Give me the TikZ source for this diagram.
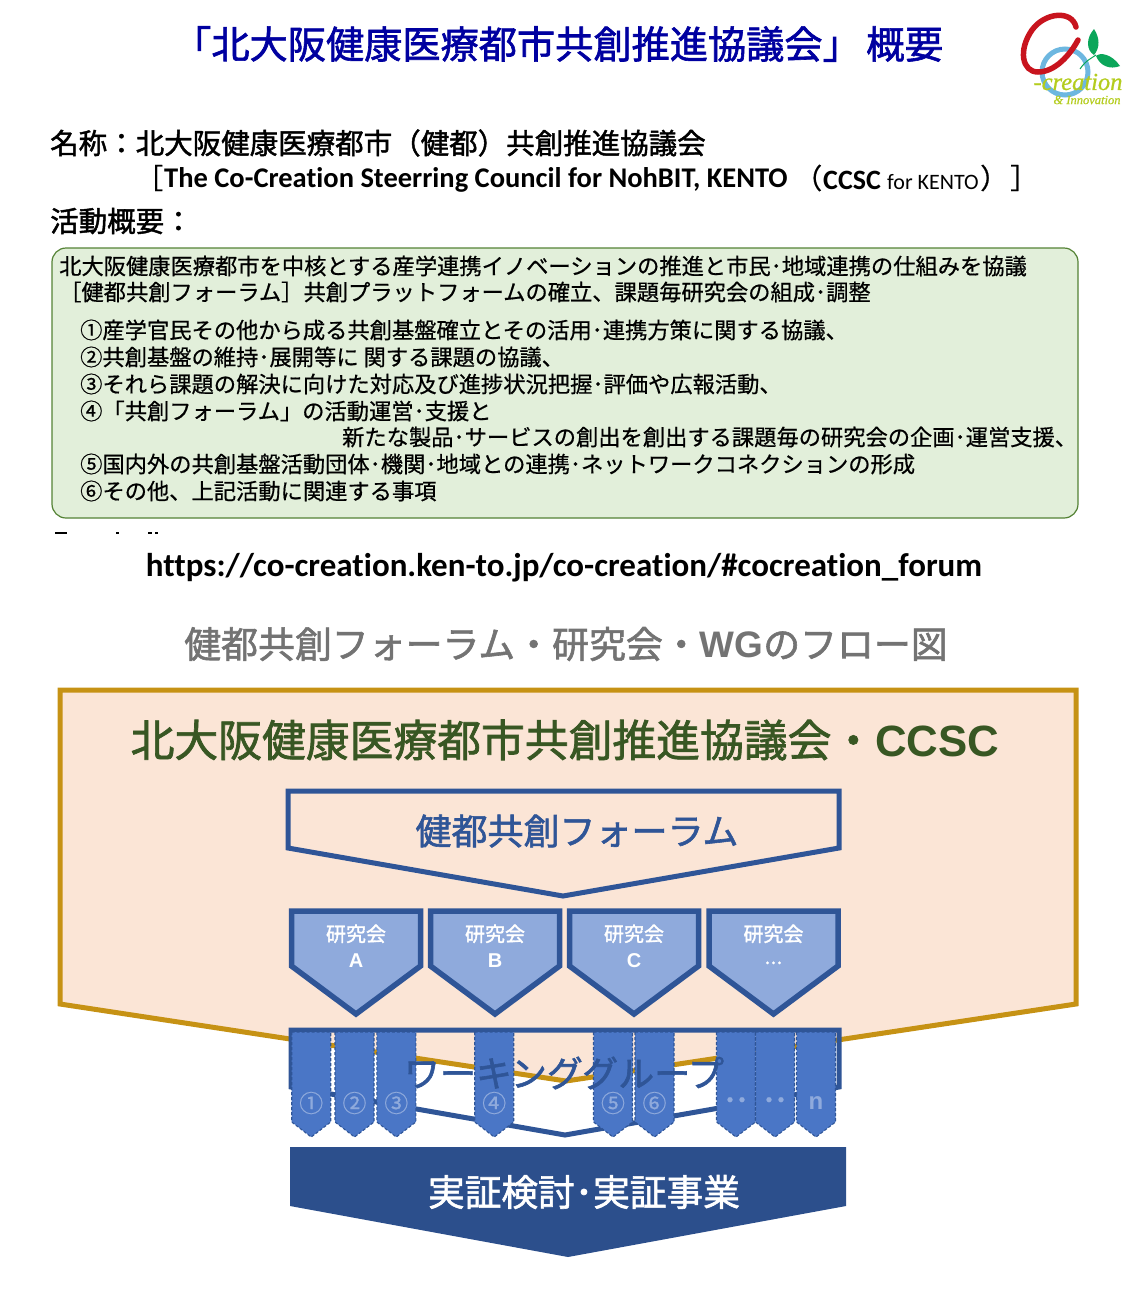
\documentclass[tikz,border=0pt]{standalone}
\usepackage{fontspec}
\setmainfont[RawFeature={embolden=0.6}]{Noto Sans CJK JP}
\newfontfamily\jpmed[RawFeature={embolden=1.6}]{Noto Sans CJK JP}
\newfontfamily\latinbold[Ligatures=NoCommon]{Carlito}
\newfontfamily\arialbold{Liberation Sans}
\newfontfamily\logofont[RawFeature={embolden=0.8}]{Liberation Serif}
\definecolor{titleblue}{HTML}{0000A0}
\definecolor{navy}{HTML}{2F5597}
\definecolor{deepnavy}{HTML}{2C4F8C}
\definecolor{peach}{HTML}{FBE5D6}
\definecolor{gold}{HTML}{C69214}
\definecolor{paleblue}{HTML}{8FAADC}
\definecolor{tabblue}{HTML}{4A76C6}
\definecolor{palegreen}{HTML}{E2EFDA}
\definecolor{boxgreen}{HTML}{548235}
\definecolor{headgreen}{HTML}{385723}
\definecolor{logored}{HTML}{C8141E}
\definecolor{logoblue}{HTML}{6DB7E0}
\definecolor{logoleaf}{HTML}{0BA65A}
\definecolor{logolime}{HTML}{B4CC1E}
\usetikzlibrary{positioning}
\tikzset{
  txt/.style={inner sep=0pt,anchor=west,font=\fontsize{22.27}{24}\selectfont},
  heading/.style={inner sep=0pt,anchor=west,font=\jpmed\fontsize{28.5}{30}\selectfont},
  bra/.style={inner sep=0pt,anchor=west,font=\fontsize{28}{30}\selectfont},
  kenkyu/.style={draw=navy,line width=5.5pt,fill=paleblue,miter limit=10},
  wgtab/.style={fill=tabblue},
  wgdash/.style={draw=navy,line width=1.1pt,dash pattern=on 3pt off 2pt},
}
\begin{document}
\begin{tikzpicture}[x=1pt,y=-1pt]
  \useasboundingbox (0,0) rectangle (1133,1307);
  % title
  \node[inner sep=0pt,anchor=west,text=titleblue,font=\jpmed\fontsize{38.2}{40}\selectfont] (title) at (173,44) {「北大阪健康医療都市共創推進協議会」};
  \node[inner sep=0pt,anchor=west,text=titleblue,font=\jpmed\fontsize{38.5}{40}\selectfont] (titleb) at (866,44) {概要};
  % logo
  \draw[logoblue,line width=5pt] (1065,72) circle (23);
  \draw[logored,line width=5.5pt,line cap=round] (1076,27) .. controls (1072,10) and (1045,12) .. (1032,30)
    .. controls (1018,50) and (1022,72) .. (1038,72) .. controls (1055,72) and (1070,55) .. (1078,40);
  \fill[logoleaf] (1094,29) .. controls (1086,38) and (1086,50) .. (1094,55) .. controls (1100,48) and (1100,38) .. (1094,29);
  \fill[logoleaf] (1120,66) .. controls (1112,54) and (1100,52) .. (1096,56) .. controls (1100,66) and (1110,70) .. (1120,66);
  \draw[logoleaf,line width=1pt] (1080,69) .. controls (1086,60) and (1092,58) .. (1096,55);
  \node[inner sep=0pt,text=logolime,font=\logofont\itshape\fontsize{24.5}{26}\selectfont] (logotext) at (1078,82) {-creation};
  \node[inner sep=0pt,text=logolime,font=\logofont\itshape\fontsize{12.5}{13}\selectfont] (logosub) at (1087,100) {\&\ Innovation};
  % name of council
  \node[heading] (name) at (50,143) {名称：北大阪健康医療都市（健都）共創推進協議会};
  \node[bra] (namebra) at (135,178) {［};
  \node[inner sep=0pt,anchor=west,font=\latinbold\bfseries\fontsize{28.5}{30}\selectfont] (nameen) at (164,180) {The Co-Creation Steerring Council for NohBIT, KENTO};
  \node[bra] (nameopen) at (794,178) {（};
  \node[inner sep=0pt,anchor=west,font=\latinbold\bfseries\fontsize{28}{30}\selectfont] (nameccsc) at (823,180) {CCSC};
  \node[inner sep=0pt,anchor=west,font=\latinbold\fontsize{22}{24}\selectfont] (namefor) at (887,182) {for KENTO};
  \node[bra] (nameclose) at (980,178) {）};
  \node[bra] (nameket) at (1010,178) {］};
  \node[heading] (activity) at (50,221) {活動概要：};
  % summary box
  \draw[boxgreen,fill=palegreen,line width=1.2pt,rounded corners=14pt] (52,248) rectangle (1078,518);
  \node[txt] (line1) at (59,266) {北大阪健康医療都市を中核とする産学連携イノベーションの推進と市民･地域連携の仕組みを協議};
  \node[txt] (line2) at (59,292) {［健都共創フォーラム］共創プラットフォームの確立、課題毎研究会の組成･調整};
  \node[txt] (item1) at (80,330) {①産学官民その他から成る共創基盤確立とその活用･連携方策に関する協議、};
  \node[txt] (item2) at (80,357) {②共創基盤の維持･展開等に 関する課題の協議、};
  \node[txt] (item3) at (80,384) {③それら課題の解決に向けた対応及び進捗状況把握･評価や広報活動、};
  \node[txt] (item4) at (80,411) {④「共創フォーラム」の活動運営･支援と};
  \node[txt] (item4b) at (342,437) {新たな製品･サービスの創出を創出する課題毎の研究会の企画･運営支援、};
  \node[txt] (item5) at (80,464) {⑤国内外の共創基盤活動団体･機関･地域との連携･ネットワークコネクションの形成};
  \node[txt] (item6) at (80,491) {⑥その他、上記活動に関連する事項};
  % cut off line under the box
  \foreach \x/\w in {55/8,62/5,116/3,148/4,155/3}
    \fill (\x,532) rectangle ++(\w,2);
  \node[inner sep=0pt,font=\latinbold\bfseries\fontsize{33}{34}\selectfont] (url) at (564,568) {https://co-creation.ken-to.jp/co-creation/\#cocreation\_forum};
  \node[inner sep=0pt,text=black!55,font=\jpmed\fontsize{36.9}{38}\selectfont] (flowtitle) at (566,644) {健都共創フォーラム・研究会・{\arialbold\bfseries WG}のフロー図};
  % council
  \draw[gold,fill=peach,line width=5pt,miter limit=10] (60,690) -- (1076,690) -- (1076,1004) -- (566,1081) -- (60,1004) -- cycle;
  \node[inner sep=0pt,text=headgreen,font=\jpmed\fontsize{43.8}{46}\selectfont] (council) at (565,740) {北大阪健康医療都市共創推進協議会・{\arialbold\bfseries CCSC}};
  % forum
  \draw[navy,line width=5pt,miter limit=10] (288,791) -- (839,791) -- (839,848) -- (563,896) -- (288,848) -- cycle;
  \node[inner sep=0pt,text=navy,font=\jpmed\fontsize{36}{38}\selectfont] (forum) at (577,831) {健都共創フォーラム};
  % study groups
  \foreach \x/\lab/\n in {356/{\arialbold\bfseries A}/a,495/{\arialbold\bfseries B}/b,634/{\arialbold\bfseries C}/c,773.5/{\bfseries\fontsize{12}{26}\selectfont ･･･}/d}{
    \draw[kenkyu] (\x-64.5,911) -- (\x+64.5,911) -- (\x+64.5,966) -- (\x,1014) -- (\x-64.5,966) -- cycle;
    \node[inner sep=0pt,text=white,align=center,font=\jpmed\fontsize{20}{26}\selectfont] (study\n) at (\x,946) {研究会\\\lab};
  }
  % working groups
  \draw[navy,line width=5pt,miter limit=10] (291,1030) -- (839,1030) -- (839,1087) -- (565,1135) -- (291,1087) -- cycle;
  \foreach \x/\lab/\n in {311.2/①/1,354.5/②/2,396.3/③/3,494.2/④/4,613/⑤/5,654.5/⑥/6,736/{\textbf{･･}}/7,775/{\textbf{･･}}/8,816/{\arialbold\bfseries n}/9}{
    \path[wgtab] (\x-19.5,1032) -- (\x+19.5,1032) -- (\x+19.5,1122) -- (\x,1137) -- (\x-19.5,1122) -- cycle;
    \draw[wgdash] (\x-19.5,1032) -- (\x+19.5,1032) -- (\x+19.5,1122) -- (\x,1137) -- (\x-19.5,1122) -- cycle;
    \node[inner sep=0pt,text=paleblue,font=\fontsize{24}{26}\selectfont] (tab\n) at (\x,1103) {\lab};
  }
  \node[inner sep=0pt,text=navy,font=\jpmed\fontsize{36}{38}\selectfont] (wg) at (564,1073) {ワーキンググループ};
  % demonstration
  \fill[deepnavy] (290,1147) -- (846,1147) -- (846,1206) -- (568,1257) -- (290,1206) -- cycle;
  \node[inner sep=0pt,text=white,font=\jpmed\fontsize{36.7}{38}\selectfont] (demo) at (584,1192) {実証検討･実証事業};
\end{tikzpicture}
\end{document}
